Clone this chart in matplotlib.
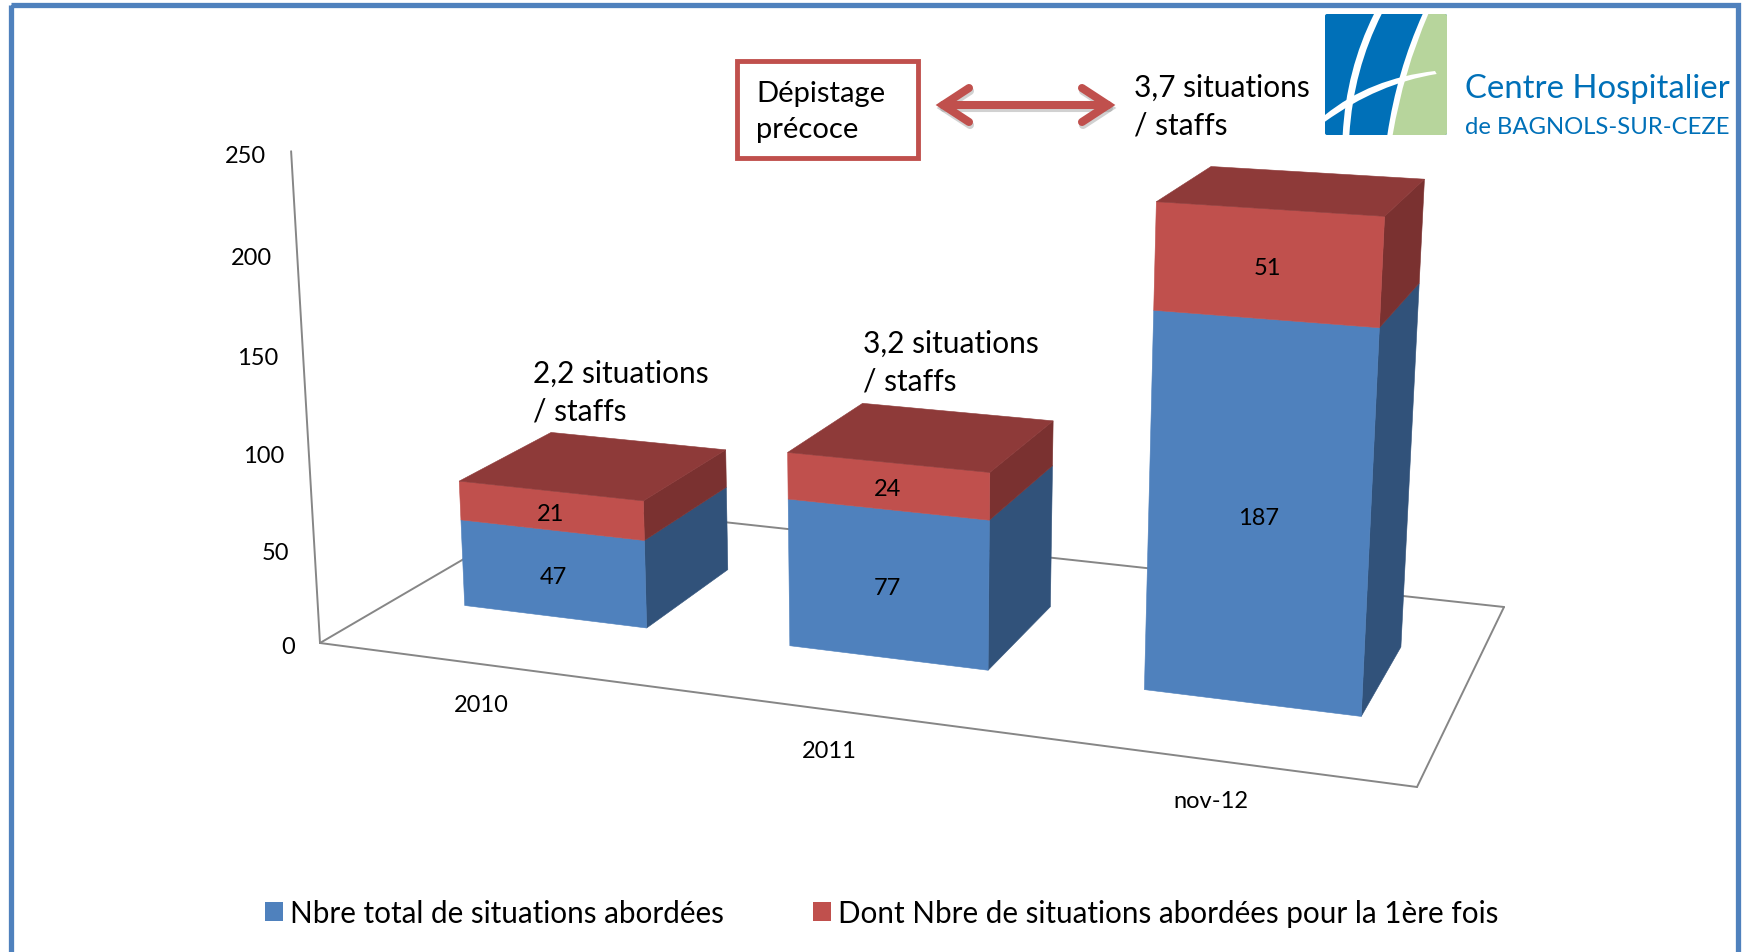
import numpy as np
import matplotlib
matplotlib.use("Agg")
import matplotlib.pyplot as plt
from matplotlib.patches import Polygon, Rectangle, PathPatch, FancyBboxPatch, Patch
from matplotlib.path import Path

plt.rcParams['font.family'] = ['Lato', 'DejaVu Sans']

# ---- data ----
categories = ['2010', '2011', 'nov-12']
total_situations = [47, 77, 187]
first_time = [21, 24, 51]
y_ticks = [0, 50, 100, 150, 200, 250]
series_names = ['Nbre total de situations abordées',
                'Dont Nbre de situations abordées pour la 1ère fois']
notes = ['2,2 situations\n/ staffs', '3,2 situations\n/ staffs', '3,7 situations\n/ staffs']

BLUE, BLUE_SIDE = '#4F81BD', '#31527A'
RED, RED_SIDE, RED_TOP = '#C0504D', '#7A3130', '#8E3A39'
AXIS = '#868686'
LOGO_BLUE, LOGO_GREEN = '#0070B8', '#B7D59C'

fig = plt.figure(figsize=(17.48, 9.53), dpi=100)
ax = fig.add_axes([0, 0, 1, 1])
ax.set_xlim(0, 1748)
ax.set_ylim(953, 0)
ax.axis('off')

# ---- camera: (x fraction, value, depth fraction) -> pixel ----
src = [(0, 0), (1, 0), (1, 1), (0, 1)]
dst = [(320, 644), (1417, 788), (1504, 608), (558, 505)]
A, b = [], []
for (x, d), (u, v) in zip(src, dst):
    A.append([x, d, 1, 0, 0, 0, -u * x, -u * d]); b.append(u)
    A.append([0, 0, 0, x, d, 1, -v * x, -v * d]); b.append(v)
H = np.append(np.linalg.solve(np.array(A, float), np.array(b, float)), 1).reshape(3, 3)

BAR_W = 0.19
D0, D1 = 0.295, 0.69
def bar_x(i):
    return (i + 0.5) / 3 - BAR_W / 2

# vertical column calibrated on the axis top and on the bars' tops
calib = [(0, 250, 0, 291, 153),
         (0, 250, 0, 291, 153),
         (0, 250, 0, 291, 153),
         (bar_x(2), 238, D0, 1155, 203),
         (bar_x(2) + BAR_W, 238, D0, 1385, 216),
         (bar_x(2) + BAR_W, 238, D1, 1425, 179),
         (bar_x(1), 101, D0, 788, 454),
         (bar_x(1) + BAR_W, 101, D0, 990, 473),
         (bar_x(0), 68, D0, 460, 482),
         (bar_x(0) + BAR_W, 68, D0, 644, 501)]
A, b = [], []
for x, val, d, u, v in calib:
    h = H @ [x, d, 1]
    A.append([val, 0, -u * val]); b.append(u * h[2] - h[0])
    A.append([0, val, -v * val]); b.append(v * h[2] - h[1])
pv = np.linalg.lstsq(np.array(A, float), np.array(b, float), rcond=None)[0]

def proj(x, val, d):
    p = H @ [x, d, 1] + pv * val
    return (p[0] / p[2], p[1] / p[2])

# ---- floor and value axis ----
def seg(p, q):
    ax.plot([p[0], q[0]], [p[1], q[1]], color=AXIS, lw=1.4, zorder=1, solid_capstyle='round')
o, fr, br, bl = proj(0, 0, 0), proj(1, 0, 0), proj(1, 0, 1), proj(0, 0, 1)
seg(o, fr); seg(fr, br); seg(br, bl); seg(bl, o)
seg(o, proj(0, y_ticks[-1], 0))

for t in y_ticks:
    px, py = proj(0, t, 0)
    ax.text(px - 25, py + 4, str(t), ha='right', va='center', fontsize=17, color='black')

# ---- stacked 3D bars ----
def face(pts, color, z):
    ax.add_patch(Polygon(pts, closed=True, facecolor=color, edgecolor=color, lw=0.4, zorder=z))

for i in range(len(categories)):
    x0, x1 = bar_x(i), bar_x(i) + BAR_W
    segs = [(0, total_situations[i], BLUE, BLUE_SIDE),
            (total_situations[i], total_situations[i] + first_time[i], RED, RED_SIDE)]
    for lo, hi, col, side in segs:
        face([proj(x1, lo, D0), proj(x1, lo, D1), proj(x1, hi, D1), proj(x1, hi, D0)], side, 3)
        face([proj(x0, lo, D0), proj(x1, lo, D0), proj(x1, hi, D0), proj(x0, hi, D0)], col, 4)
        cx, cy = proj((x0 + x1) / 2, (lo + hi) / 2, D0)
        ax.text(cx, cy + 3, str(hi - lo), ha='center', va='center', fontsize=17, color='black', zorder=6)
    top = total_situations[i] + first_time[i]
    face([proj(x0, top, D0), proj(x1, top, D0), proj(x1, top, D1), proj(x0, top, D1)], RED_TOP, 5)
    # category label below the front edge
    px, py = proj((i + 0.5) / 3, 0, 0)
    ax.text(px - 1, py + 40, categories[i], ha='center', va='center', fontsize=17, color='black')

# ---- annotations ----
NOTE_SIZE = 21.5
for s, (nx, ny) in zip(notes, [(533, 393), (863, 363), (1134, 107)]):
    ax.text(nx, ny, s, ha='left', va='center', fontsize=NOTE_SIZE, linespacing=1.42, zorder=7)

ax.add_patch(Rectangle((737, 62), 181, 97, facecolor='white', edgecolor=RED, lw=3.5, zorder=7))
ax.text(756, 112, 'Dépistage\nprécoce', ha='left', va='center', fontsize=21, linespacing=1.45, zorder=8)

def dbl_arrow(dx, dy, color, alpha, z):
    kw = dict(color=color, alpha=alpha, lw=5.8, zorder=z, solid_capstyle='round', solid_joinstyle='miter')
    ax.plot(np.array([943, 1108]) + dx, np.array([106, 106]) + dy, **kw)
    ax.plot(np.array([969, 943, 969]) + dx, np.array([89, 106, 123]) + dy, **kw)
    ax.plot(np.array([1082, 1108, 1082]) + dx, np.array([89, 106, 123]) + dy, **kw)
dbl_arrow(1, 3, '#999999', 0.45, 6)
dbl_arrow(0, 0, RED, 1, 7)

# ---- logo ----
def L(X, Y):
    return (1300 + X / 3, 1 + Y / 3)
logo_bg = FancyBboxPatch((1326, 16), 120, 119, boxstyle='round,pad=1,rounding_size=2',
                         facecolor=LOGO_BLUE, edgecolor='none', zorder=7)
ax.add_patch(logo_bg)
def curved(points, color, z):
    verts, codes = [L(*points[0])], [Path.MOVETO]
    for kind, *pts in points[1:]:
        for p in pts:
            verts.append(L(*p))
            codes.append(Path.CURVE3 if kind == 'c' else Path.LINETO)
    verts.append(verts[0]); codes.append(Path.CLOSEPOLY)
    patch = PathPatch(Path(verts, codes), facecolor=color, edgecolor='none', zorder=z)
    ax.add_patch(patch)
    patch.set_clip_path(logo_bg)
curved([(383, 42), ('l', (441, 42)), ('l', (441, 405)), ('l', (275, 405)), ('c', (305, 215), (383, 42))], LOGO_GREEN, 8)
curved([(368, 42), ('l', (385, 42)), ('c', (310, 215), (278, 405)), ('l', (262, 405)), ('c', (290, 215), (368, 42))], 'white', 9)
curved([(222, 42), ('l', (245, 42)), ('c', (160, 210), (148, 405)), ('l', (128, 405)), ('c', (138, 210), (222, 42))], 'white', 9)
curved([(75, 345), ('c', (210, 235), (405, 213)), ('l', (410, 222)), ('c', (235, 250), (75, 365))], 'white', 9)
ax.text(1465, 89, 'Centre Hospitalier', ha='left', va='center', fontsize=23.7, color=LOGO_BLUE, zorder=8)
ax.text(1465, 127, 'de BAGNOLS-SUR-CEZE', ha='left', va='center', fontsize=17.2, color=LOGO_BLUE, zorder=8)

# ---- legend ----
handles = [Patch(facecolor=BLUE, edgecolor='none'), Patch(facecolor=RED, edgecolor='none')]
ax.legend(handles, series_names, ncol=2, frameon=False, loc='center left',
          bbox_to_anchor=(259 / 1748, 1 - 914 / 953), bbox_transform=fig.transFigure,
          fontsize=21.3, handlelength=0.62, handleheight=0.62, handletextpad=0.24,
          columnspacing=3.0, borderpad=0.2, borderaxespad=0)

# ---- outer frame (open at the bottom of the picture) ----
ax.add_patch(Rectangle((11, 5.5), 1727, 1000, facecolor='none', edgecolor=BLUE, lw=3.8, zorder=10))

fig.savefig('out.png', dpi=100)
